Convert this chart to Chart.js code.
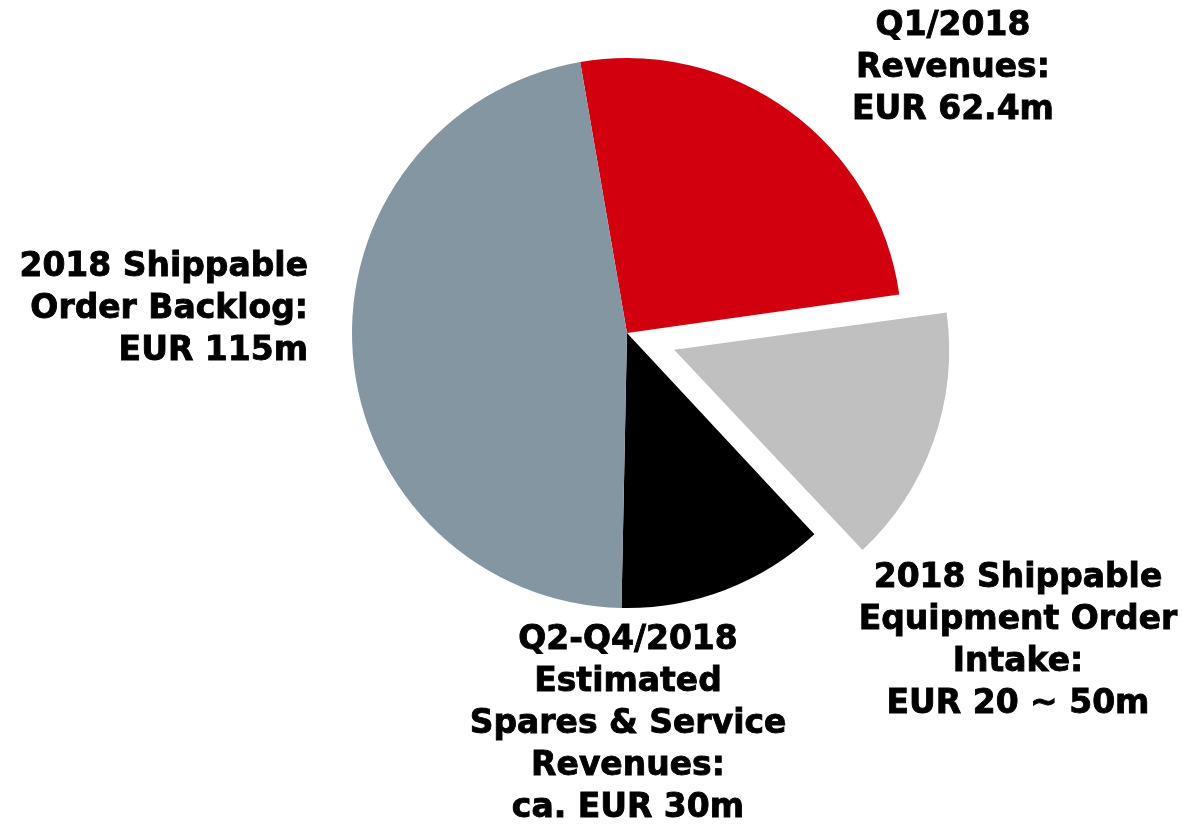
<!DOCTYPE html>
<html>
<head>
<meta charset="utf-8">
<script src="https://cdn.jsdelivr.net/npm/chart.js@4"></script>
<style>
  html, body { margin: 0; padding: 0; background: #fff; }
  #wrap { width: 1182px; height: 834px; }
</style>
</head>
<body>
<div id="wrap"><canvas id="pie"></canvas></div>
<script>
// slice values (EUR m), clockwise starting just left of 12 o'clock
const categories = ["Q1/2018 Revenues", "Shippable Equipment Order Intake", "Q2-Q4 Spares & Service", "Shippable Order Backlog"];
const values = [62.4, 37.5, 30, 115];
const sliceColors = ["#d2000e", "#c0c0c0", "#000000", "#8496a2"];

// label text, one array of lines per slice
const labelLines = [
  ["Q1/2018", "Revenues:", "EUR 62.4m"],
  ["2018 Shippable", "Equipment Order", "Intake:", "EUR 20 ~ 50m"],
  ["Q2-Q4/2018", "Estimated", "Spares & Service", "Revenues:", "ca. EUR 30m"],
  ["2018 Shippable", "Order Backlog:", "EUR 115m"]
];

// where each label block sits, relative to pie centre
const labelPos = [
  { dx: 326, dy: -307, align: "center" },
  { dx: 391, dy: 245, align: "center" },
  { dx: 1, dy: 307, align: "center" },
  { dx: -319, dy: -66, align: "right" }
];
const LINE_H = 42;

// chart.js grows an offset slice's radius a bit; pull it back so all slices share one radius
const keepRadius = {
  id: "keepRadius",
  beforeDatasetsDraw(chart) {
    const meta = chart.getDatasetMeta(0);
    const R = meta.controller.outerRadius;
    meta.data.forEach(el => {
      const off = (el.options.offset || 0) / 4;
      if (!off) return;
      const fix = 1 - Math.sin(Math.min(Math.PI, el.circumference));
      el.outerRadius = R - off * fix;
    });
  }
};

const labelPlugin = {
  id: "sliceLabels",
  afterDraw(chart) {
    const ctx = chart.ctx;
    const arc = chart.getDatasetMeta(0).data[0];
    const cx = arc.x, cy = arc.y;
    ctx.save();
    ctx.fillStyle = "#000";
    ctx.strokeStyle = "#000";
    ctx.lineWidth = 0.9;
    ctx.font = "bold 34px 'DejaVu Sans'";
    ctx.textBaseline = "middle";
    labelLines.forEach((lines, i) => {
      const p = labelPos[i];
      ctx.textAlign = p.align;
      lines.forEach((t, j) => {
        ctx.save();
        ctx.translate(cx + p.dx, cy + p.dy + j * LINE_H);
        ctx.scale(0.97, 1);
        ctx.fillText(t, 0, 0);
        ctx.strokeText(t, 0, 0);
        ctx.restore();
      });
    });
    ctx.restore();
  }
};

new Chart(document.getElementById("pie"), {
  type: "pie",
  data: {
    labels: categories,
    datasets: [{
      data: values,
      backgroundColor: sliceColors,
      borderWidth: 0,
      offset: [0, 200, 0, 0]
    }]
  },
  options: {
    responsive: true,
    maintainAspectRatio: false,
    animation: false,
    rotation: -9.8,
    radius: 275,
    layout: { padding: { left: 72, right: 0, top: 0, bottom: 168 } },
    plugins: {
      legend: { display: false },
      tooltip: { enabled: false }
    }
  },
  plugins: [keepRadius, labelPlugin]
});
</script>
</body>
</html>
